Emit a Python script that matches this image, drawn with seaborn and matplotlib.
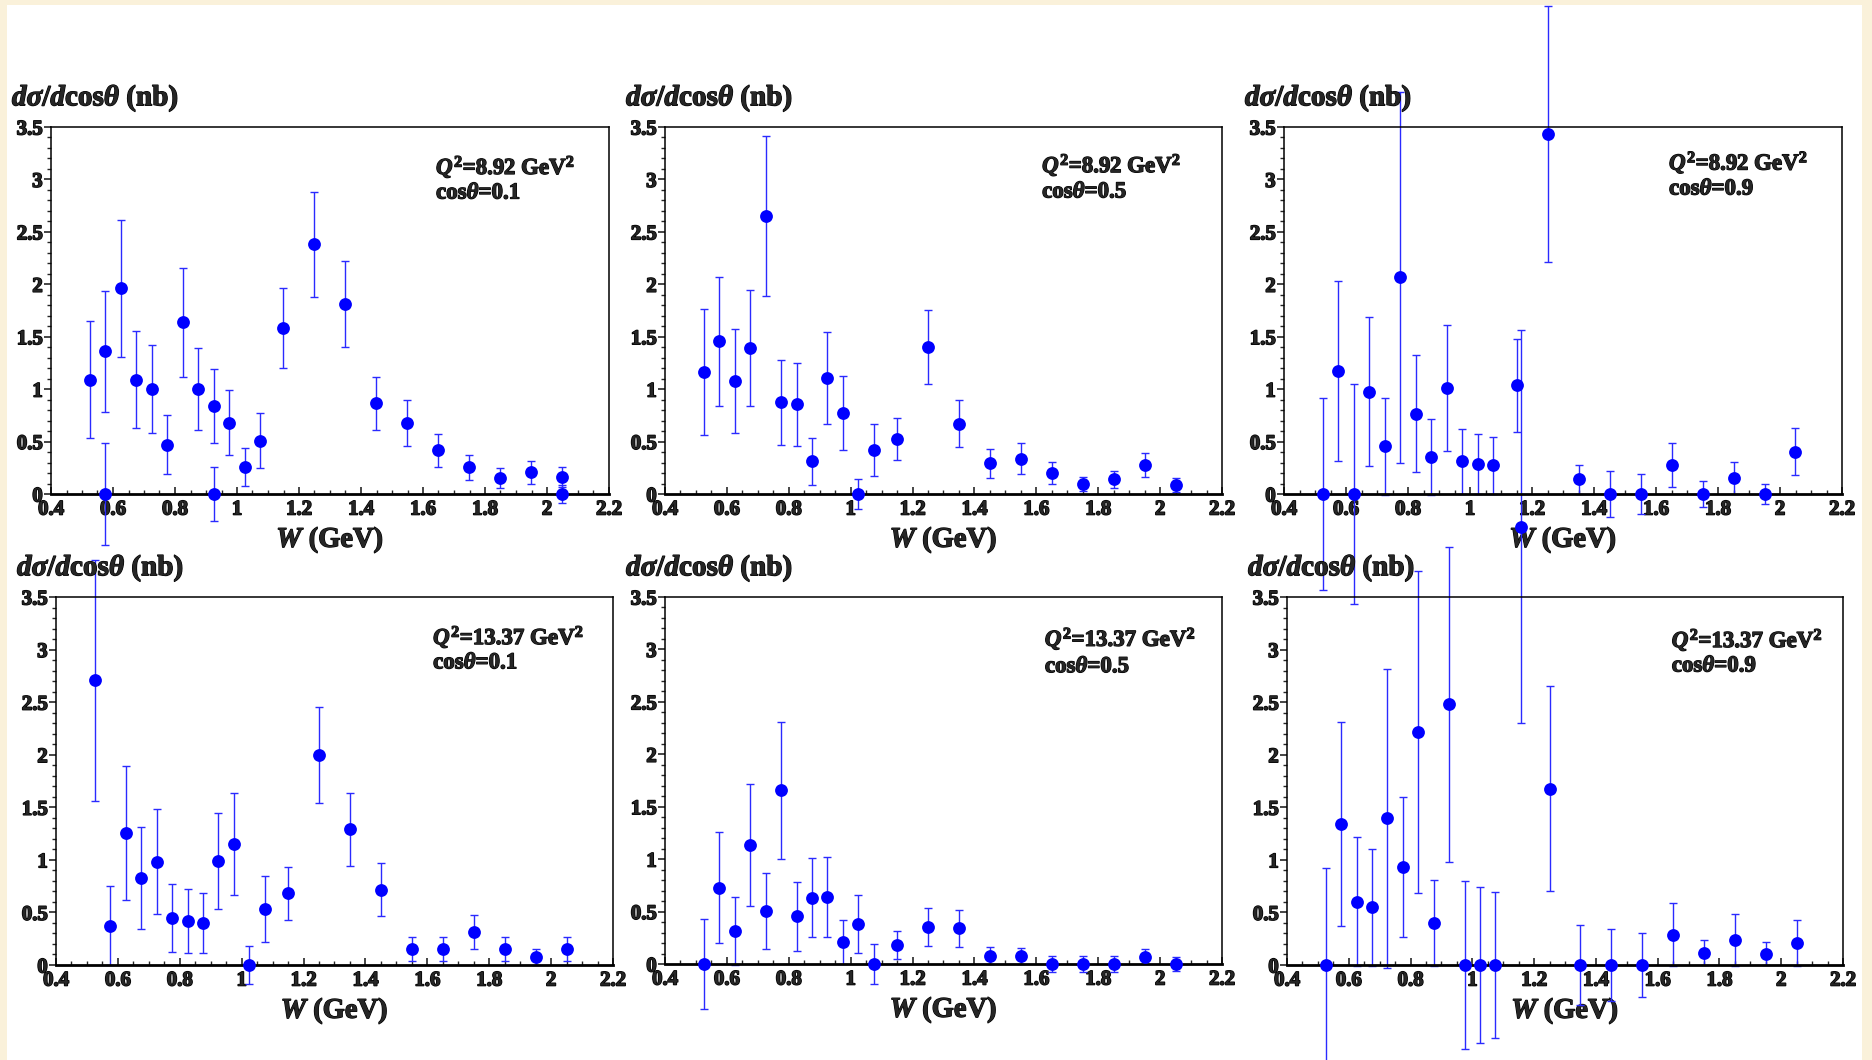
import numpy as np
import matplotlib.pyplot as plt
import matplotlib.patheffects as pe
import seaborn as sns
from matplotlib.patches import Rectangle
from matplotlib.ticker import MultipleLocator, FuncFormatter

sns.set_style("ticks")
plt.rcParams["font.family"] = ["Liberation Serif", "DejaVu Serif"]
plt.rcParams["font.weight"] = "bold"
plt.rcParams["mathtext.fontset"] = "custom"
plt.rcParams["mathtext.rm"] = "Liberation Serif:weight=bold"
plt.rcParams["mathtext.it"] = "Liberation Serif:style=italic:weight=bold"
plt.rcParams["mathtext.bf"] = "Liberation Serif:weight=bold"

# === Bins en W (GeV)
w_bins = [0.525, 0.575, 0.625, 0.675, 0.725, 0.775, 0.825, 0.875, 0.925, 0.975, 1.025,
          1.075, 1.15, 1.25, 1.35, 1.45, 1.55, 1.65, 1.75, 1.85, 1.95, 2.05]

# === Q2 = 8.92 GeV2
y_892_01 = [1.09, 1.36, 1.96, 1.09, 1.00, 0.47, 1.64, 1.00, 0.84, 0.68, 0.26,
            0.51, 1.58, 2.38, 1.81, 0.865, 0.68, 0.416, 0.254, 0.153, 0.207, 0.16]
e_892_01 = [0.56, 0.58, 0.655, 0.46, 0.42, 0.28, 0.52, 0.39, 0.35, 0.31, 0.18,
            0.26, 0.38, 0.50, 0.41, 0.255, 0.22, 0.155, 0.12, 0.094, 0.108, 0.095]
w_892_01_extra = [0.575, 0.925, 2.05]
y_892_01_extra = [0.0, 0.0, 0.0]
e_892_01_extra = [0.49, 0.26, 0.086]

y_892_05 = [1.166, 1.456, 1.078, 1.392, 2.65, 0.874, 0.855, 0.311, 1.106, 0.772, 0.0,
            0.416, 0.528, 1.402, 0.671, 0.292, 0.337, 0.20, 0.095, 0.14, 0.273, 0.086]
e_892_05 = [0.60, 0.615, 0.50, 0.55, 0.763, 0.405, 0.395, 0.227, 0.437, 0.356, 0.145,
            0.247, 0.20, 0.357, 0.224, 0.14, 0.146, 0.103, 0.07, 0.08, 0.115, 0.064]

y_892_09 = [0.0, 1.175, 0.0, 0.977, 0.453, 2.067, 0.766, 0.351, 1.008, 0.31, 0.286,
            0.272, 1.035, 3.435, 0.14, 0.0, 0.0, 0.272, 0.0, 0.153, 0.0, 0.402]
e_892_09 = [0.92, 0.857, 1.05, 0.71, 0.46, 1.77, 0.56, 0.36, 0.60, 0.31, 0.29,
            0.27, 0.44, 1.22, 0.14, 0.22, 0.19, 0.21, 0.126, 0.155, 0.10, 0.223]
w_892_09_extra = [1.165]
y_892_09_extra = [-0.31]
e_892_09_extra = [1.87]

# === Q2 = 13.37 GeV2
y_1337_01 = [2.708, 0.372, 1.257, 0.827, 0.983, 0.449, 0.42, 0.398, 0.993, 1.152, 0.0,
             0.531, 0.681, 1.995, 1.289, 0.716, 0.156, 0.156, 0.312, 0.156, 0.073, 0.156]
e_1337_01 = [1.145, 0.375, 0.64, 0.487, 0.50, 0.323, 0.303, 0.287, 0.456, 0.487, 0.18,
             0.313, 0.253, 0.458, 0.35, 0.254, 0.115, 0.115, 0.16, 0.115, 0.075, 0.115]

y_1337_05 = [0.0, 0.728, 0.315, 1.132, 0.505, 1.656, 0.455, 0.633, 0.642, 0.207, 0.381,
             0.0, 0.181, 0.353, 0.34, 0.079, 0.076, 0.0, 0.0, 0.0, 0.07, 0.0]
e_1337_05 = [0.43, 0.528, 0.32, 0.583, 0.364, 0.653, 0.33, 0.376, 0.383, 0.21, 0.277,
             0.19, 0.132, 0.183, 0.177, 0.08, 0.08, 0.073, 0.073, 0.073, 0.072, 0.067]

y_1337_09 = [0.0, 1.342, 0.603, 0.548, 1.396, 0.93, 2.217, 0.402, 2.479, 0.0, 0.0,
             0.0, np.nan, 1.675, 0.0, 0.0, 0.0, 0.286, 0.116, 0.238, 0.106, 0.211]
e_1337_09 = [0.926, 0.967, 0.61, 0.56, 1.42, 0.667, 1.53, 0.41, 1.50, 0.80, 0.74,
             0.69, np.nan, 0.975, 0.385, 0.345, 0.303, 0.30, 0.12, 0.245, 0.11, 0.22]

q2_labels = ["8.92", "8.92", "8.92", "13.37", "13.37", "13.37"]
cos_labels = ["0.1", "0.5", "0.9", "0.1", "0.5", "0.9"]

paneles = [
    (y_892_01, e_892_01, w_892_01_extra, y_892_01_extra, e_892_01_extra),
    (y_892_05, e_892_05, [], [], []),
    (y_892_09, e_892_09, w_892_09_extra, y_892_09_extra, e_892_09_extra),
    (y_1337_01, e_1337_01, [], [], []),
    (y_1337_05, e_1337_05, [], [], []),
    (y_1337_09, e_1337_09, [], [], []),
]

# === Layout (pixeles: izq, arriba, der, abajo)
W_PX, H_PX = 1872, 1060
cajas = [(51, 127, 609, 494), (665, 127, 1222, 494), (1284, 127, 1842, 494),
         (56, 597, 613, 965), (665, 597, 1222, 964), (1287, 597, 1843, 965)]
texto_pos = [(0.69, 0.891, 0.82), (0.677, 0.896, 0.823), (0.69, 0.903, 0.831),
             (0.677, 0.891, 0.821), (0.682, 0.886, 0.81), (0.692, 0.883, 0.8125)]

azul = "#0000ff"
azul_err = "#2a2aff"
grueso = [pe.withStroke(linewidth=0.9, foreground="black")]
grueso_tick = [pe.withStroke(linewidth=1.1, foreground="black")]

fig = plt.figure(figsize=(W_PX / 100, H_PX / 100), dpi=100)
fig.patch.set_facecolor("#faf1da")
fig.patches.append(Rectangle((7 / W_PX, 0), (1862 - 7) / W_PX, (H_PX - 5) / H_PX,
                             transform=fig.transFigure, facecolor="white",
                             edgecolor="none", zorder=-10))

fmt = FuncFormatter(lambda v, p: f"{v:g}")

for i, (y, e, wx, yx, ex) in enumerate(paneles):
    l, t, r, b = cajas[i]
    ax = fig.add_axes([l / W_PX, 1 - b / H_PX, (r - l) / W_PX, (b - t) / H_PX])
    ax.patch.set_alpha(0)

    ws = list(w_bins) + list(wx)
    ys = list(y) + list(yx)
    es = list(e) + list(ex)
    cont = ax.errorbar(ws, ys, yerr=es, fmt="none", ecolor=azul_err,
                       elinewidth=1.0, capsize=3, capthick=1.0, zorder=2)
    for art in cont.lines[1]:
        art.set_clip_on(False)
    for art in cont.lines[2]:
        art.set_clip_on(False)
    sns.scatterplot(x=ws, y=ys, ax=ax, color=azul, s=85, linewidth=0,
                    clip_on=False, zorder=3, legend=False)

    ax.set_xlim(0.4, 2.2)
    ax.set_ylim(0, 3.5)
    ax.xaxis.set_major_locator(MultipleLocator(0.2))
    ax.xaxis.set_minor_locator(MultipleLocator(0.05))
    ax.yaxis.set_major_locator(MultipleLocator(0.5))
    ax.yaxis.set_minor_locator(MultipleLocator(0.1))
    ax.xaxis.set_major_formatter(fmt)
    ax.yaxis.set_major_formatter(fmt)
    ax.tick_params(axis="x", which="major", direction="in", length=5, width=1.2,
                   pad=4, labelsize=15)
    ax.tick_params(axis="x", which="minor", direction="in", length=3, width=1.0)
    ax.tick_params(axis="y", which="major", direction="out", length=5, width=1.2,
                   pad=1, labelsize=15)
    ax.tick_params(axis="y", which="minor", direction="out", length=3, width=1.0)
    for lab in ax.get_xticklabels() + ax.get_yticklabels():
        lab.set_fontweight("bold")
        lab.set_path_effects(grueso_tick)
    for s in ax.spines.values():
        s.set_color("black")
        s.set_linewidth(1.1)
    ax.spines["bottom"].set_linewidth(2.0)

    ax.set_xlabel(r"$W$ (GeV)", fontsize=20.5, fontweight="bold", labelpad=4,
                  path_effects=grueso)
    ax.text(-0.07, 1.078, r"$d\sigma/d$cos$\theta$ (nb)", transform=ax.transAxes,
            fontsize=21, fontweight="bold", ha="left", va="center", path_effects=grueso)

    tx, ty1, ty2 = texto_pos[i]
    ax.text(tx, ty1, r"$Q^2$=" + q2_labels[i] + r" GeV$^2$", transform=ax.transAxes,
            fontsize=16.5, fontweight="bold", ha="left", va="center", path_effects=grueso)
    ax.text(tx, ty2, r"cos$\theta$=" + cos_labels[i], transform=ax.transAxes,
            fontsize=16.5, fontweight="bold", ha="left", va="center", path_effects=grueso)

fig.savefig("out.png", dpi=100, facecolor=fig.get_facecolor())
